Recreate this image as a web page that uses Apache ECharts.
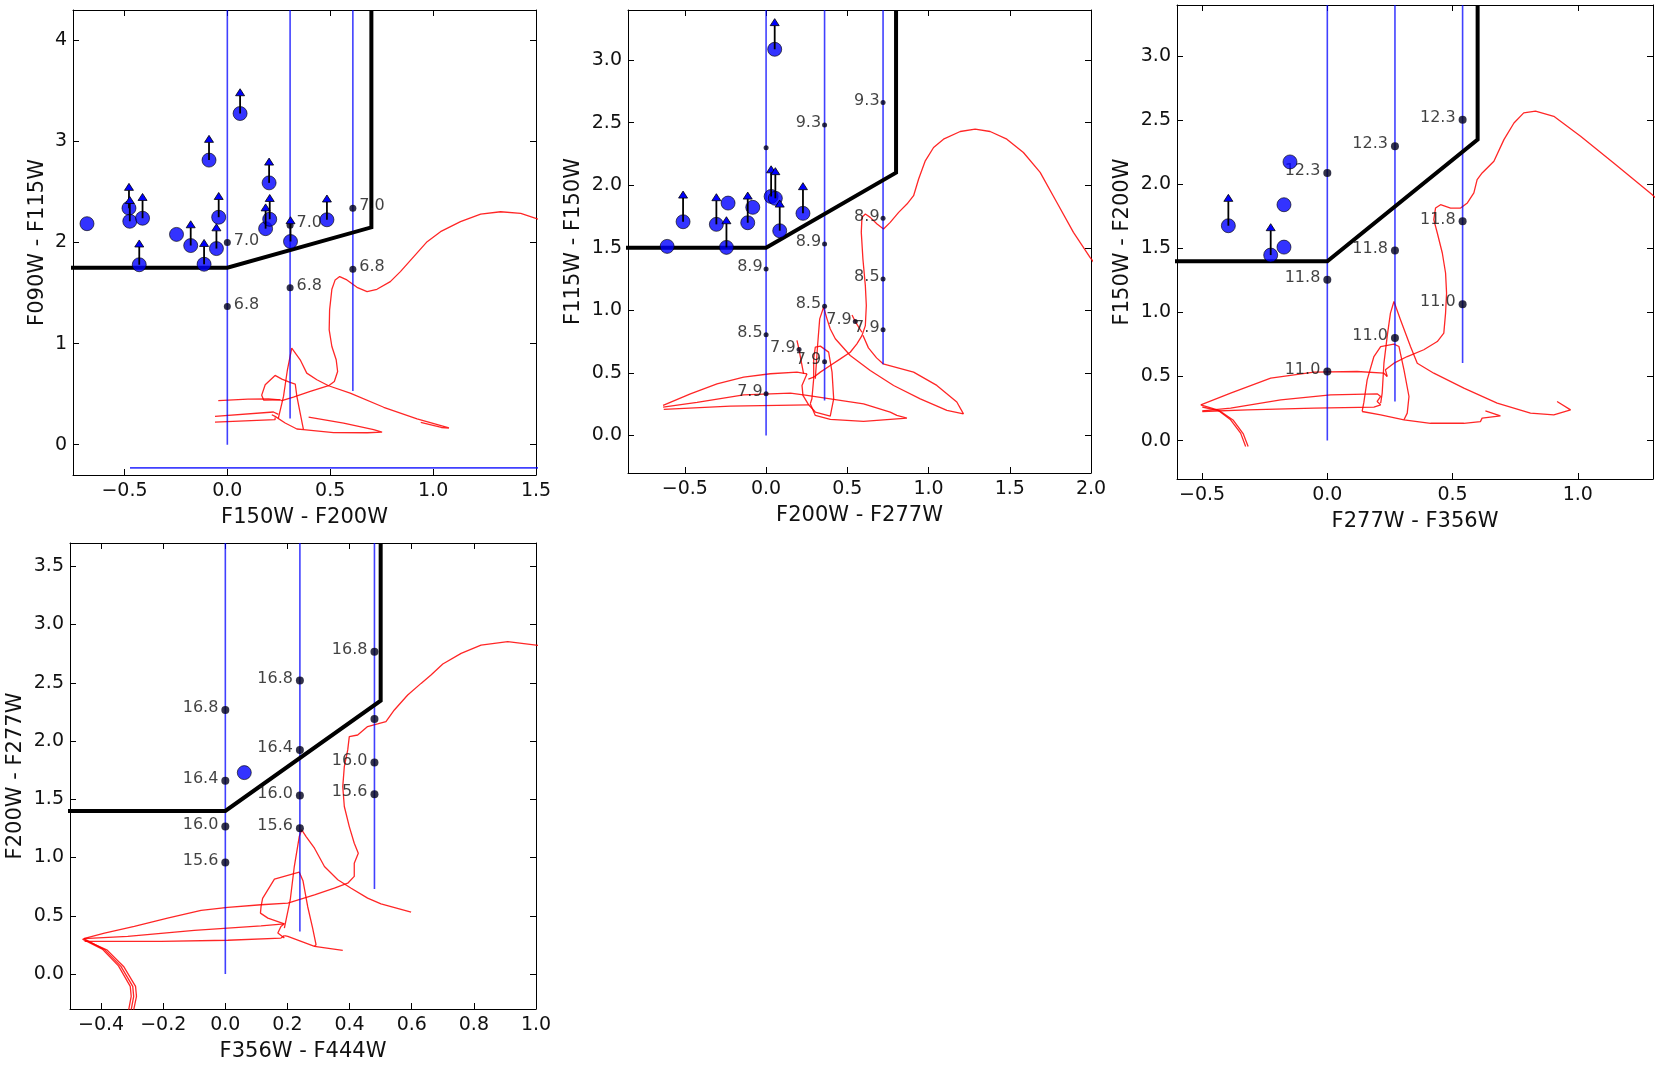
<!DOCTYPE html>
<html><head><meta charset="utf-8">
<script src="https://cdn.jsdelivr.net/npm/echarts@6/dist/echarts.min.js"></script>
<style>html,body{margin:0;padding:0;background:#fff}#c{width:1661px;height:1077px}</style>
</head><body><div id="c"></div>
<script>
// ---------------- Panel 1: F150W-F200W vs F090W-F115W ----------------
const p1XTicks = [-0.5, 0.0, 0.5, 1.0, 1.5];
const p1YTicks = [0, 1, 2, 3, 4];
const p1Src = [[-0.682,2.186],[-0.478,2.34],[-0.474,2.21],[-0.412,2.24],[-0.428,1.78],[-0.247,2.08],[-0.178,1.97],[-0.113,1.785],[-0.089,2.815],[-0.053,1.94],[-0.042,2.25],[0.062,3.276],[0.186,2.137],[0.203,2.59],[0.206,2.23],[0.307,2.01],[0.484,2.225]];
const p1Limit = [0,1,1,1,1,0,1,1,1,1,1,1,1,1,1,1,1];
const p1Cut = [[-0.8,1.75],[0,1.75],[0.7,2.15],[0.7,4.3]];
const p1Blue = [[0,0.0],[0.305,0.26],[0.61,0.53]];
const p1BlueH = [[-0.473,-0.23],[1.6,-0.23]];
const p1Age = [[0,2.0],[0,1.366],[0.305,2.17],[0.305,1.553],[0.61,2.34],[0.61,1.735]];
const p1AgeLbl = ['7.0','6.8','7.0','6.8','7.0','6.8'];
const p1Tracks = [
 [[1.55,2.2],[1.499,2.239],[1.426,2.288],[1.328,2.304],[1.231,2.281],[1.133,2.206],[1.036,2.107],[0.971,2.008],[0.906,1.86],[0.841,1.712],[0.792,1.613],[0.727,1.537],[0.679,1.514],[0.63,1.557],[0.581,1.63],[0.546,1.663],[0.524,1.63],[0.508,1.537],[0.497,1.333],[0.495,1.136],[0.508,0.971],[0.529,0.84],[0.536,0.724],[0.52,0.625],[0.492,0.583],[0.403,0.527],[0.321,0.471],[0.265,0.435],[0.257,0.444]],
 [[0.257,0.444],[0.177,0.44],[0.167,0.49],[0.184,0.593],[0.232,0.685],[0.265,0.648],[0.305,0.616],[0.33,0.6],[0.338,0.477],[0.354,0.313],[0.37,0.148],[0.338,0.155],[0.281,0.214],[0.232,0.28],[0.216,0.296]],
 [[-0.044,0.435],[0.1,0.45],[0.2,0.452],[0.257,0.444]],
 [[-0.06,0.28],[0.224,0.323],[0.248,0.30]],
 [[-0.06,0.224],[0.232,0.247],[0.232,0.27]],
 [[0.248,0.263],[0.273,0.477],[0.292,0.741],[0.313,0.955],[0.354,0.84],[0.386,0.708],[0.435,0.642],[0.492,0.583],[0.597,0.51],[0.76,0.37],[0.922,0.255],[1.077,0.165],[1.04,0.17],[0.94,0.22]],
 [[0.395,0.273],[0.565,0.214],[0.711,0.148],[0.752,0.125],[0.68,0.118],[0.516,0.12],[0.37,0.148]]
];

// ---------------- Panel 2: F200W-F277W vs F115W-F150W ----------------
const p2XTicks = [-0.5, 0.0, 0.5, 1.0, 1.5, 2.0];
const p2YTicks = [0.0, 0.5, 1.0, 1.5, 2.0, 2.5, 3.0];
const p2Src = [[-0.609,1.511],[-0.511,1.708],[-0.306,1.687],[-0.244,1.503],[-0.234,1.857],[-0.113,1.70],[-0.082,1.823],[0.031,1.91],[0.057,1.895],[0.084,1.636],[0.053,3.086],[0.227,1.775]];
const p2Limit = [0,1,1,1,0,1,0,1,1,1,1,1];
const p2Cut = [[-0.9,1.5],[0,1.5],[0.8,2.1],[0.8,3.4]];
const p2Blue = [[0,0.0],[0.36,0.28],[0.72,0.57]];
const p2Age = [[0,2.30],[0,1.33],[0,0.804],[0,0.333],[0.36,2.48],[0.36,1.53],[0.36,1.033],[0.36,0.59],[0.72,2.66],[0.72,1.735],[0.72,1.25],[0.72,0.844],[0.203,0.686],[0.549,0.91]];
const p2AgeLbl = ['','8.9','8.5','7.9','9.3','8.9','8.5','7.9','9.3','8.9','8.5','7.9','7.9','7.9'];
const p2Tracks = [
 [[2.03,1.36],[1.994,1.424],[1.892,1.623],[1.79,1.862],[1.687,2.102],[1.584,2.261],[1.482,2.368],[1.379,2.429],[1.287,2.448],[1.195,2.429],[1.092,2.368],[1.031,2.301],[0.98,2.195],[0.939,2.049],[0.908,1.916],[0.867,1.849],[0.816,1.783],[0.764,1.703],[0.723,1.65],[0.683,1.69],[0.641,1.743],[0.611,1.77],[0.59,1.743],[0.586,1.623],[0.596,1.41],[0.611,1.197],[0.617,1.038],[0.611,0.878],[0.59,0.798],[0.559,0.732],[0.518,0.665],[0.457,0.612],[0.395,0.559],[0.334,0.506],[0.293,0.466],[0.26,0.45]],
 [[0.596,0.80],[0.63,0.70],[0.68,0.62],[0.72,0.573],[0.908,0.506],[1.051,0.40],[1.174,0.267],[1.215,0.173]],
 [[0.303,0.453],[0.317,0.719],[0.33,0.932],[0.354,1.025],[0.375,0.932],[0.395,0.851],[0.426,0.773],[0.518,0.639],[0.641,0.519],[0.785,0.399],[0.949,0.293],[1.113,0.20],[1.215,0.173]],
 [[0.252,0.493],[0.19,0.506],[0.026,0.493],[-0.138,0.466],[-0.302,0.413],[-0.466,0.333],[-0.634,0.24]],
 [[-0.634,0.227],[-0.425,0.264],[-0.138,0.325],[0.15,0.339],[0.252,0.32],[0.395,0.293],[0.6,0.253],[0.764,0.187],[0.805,0.16],[0.867,0.139],[0.6,0.112],[0.395,0.128],[0.303,0.16],[0.272,0.253]],
 [[-0.63,0.208],[-0.22,0.235],[0.262,0.245]],
 [[0.252,0.493],[0.221,0.4],[0.227,0.32],[0.262,0.245],[0.303,0.187],[0.395,0.155],[0.416,0.293],[0.406,0.506],[0.385,0.666],[0.334,0.714],[0.303,0.706],[0.293,0.613],[0.293,0.453],[0.282,0.293],[0.272,0.253]],
 [[0.19,0.76],[0.203,0.686],[0.215,0.6],[0.231,0.493]],
 [[0.529,0.963],[0.549,0.91],[0.59,0.825]]
];

// ---------------- Panel 3: F277W-F356W vs F150W-F200W ----------------
const p3XTicks = [-0.5, 0.0, 0.5, 1.0];
const p3YTicks = [0.0, 0.5, 1.0, 1.5, 2.0, 2.5, 3.0];
const p3Src = [[-0.395,1.677],[-0.226,1.448],[-0.173,1.51],[-0.173,1.841],[-0.149,2.175]];
const p3Limit = [1,1,0,0,0];
const p3Cut = [[-0.7,1.4],[0,1.4],[0.6,2.35],[0.6,3.4]];
const p3Blue = [[0,0.0],[0.27,0.305],[0.54,0.605]];
const p3Age = [[0,2.089],[0,1.255],[0,0.539],[0.27,2.297],[0.27,1.484],[0.27,0.80],[0.54,2.505],[0.54,1.711],[0.54,1.065]];
const p3AgeLbl = ['12.3','11.8','11.0','12.3','11.8','11.0','12.3','11.8','11.0'];
const p3Tracks = [
 [[1.33,1.86],[1.296,1.92],[1.143,2.167],[1.011,2.375],[0.904,2.531],[0.831,2.571],[0.784,2.558],[0.745,2.479],[0.705,2.349],[0.665,2.18],[0.618,2.089],[0.598,2.037],[0.585,1.933],[0.559,1.855],[0.532,1.815],[0.492,1.815],[0.452,1.841],[0.432,1.815],[0.425,1.724],[0.439,1.62],[0.459,1.464],[0.472,1.308],[0.476,1.151],[0.472,0.995],[0.465,0.839],[0.439,0.773],[0.385,0.709],[0.319,0.656],[0.266,0.604],[0.232,0.552],[0.239,0.50]],
 [[0.213,0.292],[0.219,0.37],[0.226,0.604],[0.239,0.813],[0.252,0.995],[0.266,1.086],[0.272,1.086],[0.292,0.943],[0.332,0.734],[0.359,0.604],[0.425,0.526],[0.545,0.409],[0.678,0.292],[0.811,0.214],[0.904,0.201],[0.971,0.24],[0.917,0.305]],
 [[0.139,0.227],[0.146,0.30],[0.159,0.474],[0.186,0.656],[0.213,0.734],[0.266,0.753],[0.286,0.734],[0.306,0.552],[0.326,0.344],[0.319,0.214],[0.306,0.162]],
 [[0.139,0.227],[0.213,0.201],[0.306,0.162],[0.412,0.135],[0.545,0.135],[0.611,0.148],[0.618,0.175],[0.691,0.193],[0.631,0.232]],
 [[-0.505,0.279],[-0.386,0.37],[-0.226,0.487],[-0.053,0.534],[0.119,0.539],[0.226,0.526],[0.239,0.50]],
 [[-0.499,0.232],[-0.386,0.253],[-0.186,0.318],[0.013,0.357],[0.199,0.365],[0.213,0.344],[0.199,0.305],[0.213,0.279]],
 [[-0.499,0.227],[-0.319,0.24],[-0.053,0.253],[0.186,0.261],[0.213,0.279]],
 [[-0.505,0.279],[-0.439,0.24],[-0.386,0.162],[-0.346,0.058],[-0.326,-0.047]],
 [[-0.499,0.262],[-0.43,0.232],[-0.375,0.158],[-0.336,0.055],[-0.316,-0.047]]
];

// ---------------- Panel 4: F356W-F444W vs F200W-F277W ----------------
const p4XTicks = [-0.4, -0.2, 0.0, 0.2, 0.4, 0.6, 0.8, 1.0];
const p4YTicks = [0.0, 0.5, 1.0, 1.5, 2.0, 2.5, 3.0, 3.5];
const p4Src = [[0.061,1.729]];
const p4Limit = [0];
const p4Cut = [[-0.6,1.4],[0,1.4],[0.5,2.347],[0.5,3.7]];
const p4Blue = [[0,0.0],[0.24,0.365],[0.48,0.73]];
const p4Age = [[0,2.267],[0,1.66],[0,1.266],[0,0.957],[0.24,2.52],[0.24,1.924],[0.24,1.532],[0.24,1.252],[0.48,2.767],[0.48,2.19],[0.48,1.815],[0.48,1.544]];
const p4AgeLbl = ['16.8','16.4','16.0','15.6','16.8','16.4','16.0','15.6','16.8','','16.0','15.6'];
const p4Tracks = [
 [[1.03,2.81],[1.0,2.824],[0.909,2.853],[0.823,2.824],[0.759,2.753],[0.7,2.661],[0.662,2.567],[0.63,2.495],[0.587,2.395],[0.544,2.267],[0.517,2.167],[0.49,2.147],[0.458,2.124],[0.426,2.052],[0.399,2.038],[0.394,1.924],[0.383,1.781],[0.378,1.609],[0.383,1.438],[0.399,1.266],[0.415,1.123],[0.428,1.037],[0.415,0.952],[0.415,0.838],[0.394,0.78],[0.351,0.737],[0.287,0.68],[0.201,0.609],[0.115,0.595],[0.008,0.572],[-0.078,0.546],[-0.186,0.48],[-0.293,0.409],[-0.389,0.352],[-0.456,0.304]],
 [[-0.456,0.304],[-0.314,0.323],[-0.1,0.375],[0.115,0.414],[0.19,0.431],[0.179,0.409],[0.169,0.352],[0.19,0.309]],
 [[-0.453,0.281],[-0.207,0.281],[0.008,0.29],[0.179,0.309],[0.19,0.33]],
 [[0.19,0.43],[0.137,0.48],[0.113,0.523],[0.115,0.58],[0.12,0.65],[0.158,0.815],[0.238,0.874],[0.25,0.80],[0.265,0.58],[0.281,0.395],[0.292,0.252],[0.287,0.238]],
 [[0.19,0.395],[0.209,0.638],[0.222,0.923],[0.238,1.18],[0.246,1.238],[0.26,1.18],[0.287,1.08],[0.319,0.923],[0.362,0.809],[0.405,0.737],[0.458,0.652],[0.501,0.603],[0.598,0.531]],
 [[0.19,0.33],[0.201,0.323],[0.244,0.281],[0.287,0.238],[0.378,0.204]],
 [[-0.456,0.304],[-0.389,0.21],[-0.336,0.066],[-0.298,-0.106],[-0.295,-0.192],[-0.304,-0.32]],
 [[-0.45,0.29],[-0.38,0.205],[-0.326,0.06],[-0.289,-0.106],[-0.286,-0.192],[-0.296,-0.32]],
 [[-0.46,0.3],[-0.396,0.214],[-0.344,0.07],[-0.306,-0.106],[-0.303,-0.192],[-0.312,-0.32]]
];

// ---------------- build chart ----------------
const FONT = 'DejaVu Sans';
const ARROW_LEN = 0.245;
const panels = [
 {grid:{left:73,top:10,width:463,height:465}, x:[-0.75,1.5], y:[-0.3,4.3], xt:p1XTicks, yt:p1YTicks, yd:0, xn:'F150W - F200W', yn:'F090W - F115W',
  src:p1Src, lim:p1Limit, cut:p1Cut, blue:p1Blue, extra:[p1BlueH], age:p1Age, lbl:p1AgeLbl, tracks:p1Tracks, dot:7, pos:'right', dist:3, circ:14},
 {grid:{left:628,top:10,width:463,height:463}, x:[-0.85,2.0], y:[-0.3,3.4], xt:p2XTicks, yt:p2YTicks, yd:1, xn:'F200W - F277W', yn:'F115W - F150W',
  src:p2Src, lim:p2Limit, cut:p2Cut, blue:p2Blue, extra:[], age:p2Age, lbl:p2AgeLbl, tracks:p2Tracks, dot:5, pos:'left', dist:1, circ:14},
 {grid:{left:1177,top:5,width:476,height:474}, x:[-0.6,1.3], y:[-0.3,3.4], xt:p3XTicks, yt:p3YTicks, yd:1, xn:'F277W - F356W', yn:'F150W - F200W',
  src:p3Src, lim:p3Limit, cut:p3Cut, blue:p3Blue, extra:[], age:p3Age, lbl:p3AgeLbl, tracks:p3Tracks, dot:8, pos:'left', dist:3, circ:14},
 {grid:{left:70,top:543,width:466,height:466}, x:[-0.5,1.0], y:[-0.3,3.7], xt:p4XTicks, yt:p4YTicks, yd:1, xn:'F356W - F444W', yn:'F200W - F277W',
  src:p4Src, lim:p4Limit, cut:p4Cut, blue:p4Blue, extra:[], age:p4Age, lbl:p4AgeLbl, tracks:p4Tracks, dot:8, pos:'left', dist:3, circ:14}
];

function fmt(v, d){ return Number(v).toFixed(d).replace('-', '\u2212'); }

const grids = [], xAxes = [], yAxes = [], series = [];
panels.forEach((p, i) => {
  grids.push(Object.assign({containLabel:false, show:false}, p.grid));
  const line = {show:true, onZero:false, lineStyle:{color:'#000', width:1}};
  const tick = (vals)=>({show:true, inside:true, length:6, customValues:vals, lineStyle:{color:'#000', width:1}});
  const nameStyle = {fontFamily:FONT, fontSize:21, color:'#111'};
  xAxes.push({type:'value', gridIndex:i, position:'bottom', min:p.x[0], max:p.x[1], axisLine:line, splitLine:{show:false},
    axisTick:tick(p.xt), axisLabel:{customValues:p.xt, margin:7, fontFamily:FONT, fontSize:19, color:'#111', formatter:(v)=>fmt(v,1)},
    name:p.xn, nameLocation:'middle', nameGap:32, nameTextStyle:nameStyle});
  xAxes.push({type:'value', gridIndex:i, position:'top', min:p.x[0], max:p.x[1], axisLine:line, splitLine:{show:false},
    axisTick:tick(p.xt), axisLabel:{show:false}});
  yAxes.push({type:'value', gridIndex:i, position:'left', min:p.y[0], max:p.y[1], axisLine:line, splitLine:{show:false},
    axisTick:tick(p.yt), axisLabel:{customValues:p.yt, margin:6, fontFamily:FONT, fontSize:19, color:'#111', formatter:(v)=>fmt(v,p.yd)},
    name:p.yn, nameLocation:'middle', nameGap: (p.yd===0? 25 : 44), nameRotate:90, nameTextStyle:nameStyle});
  yAxes.push({type:'value', gridIndex:i, position:'right', min:p.y[0], max:p.y[1], axisLine:line, splitLine:{show:false},
    axisTick:tick(p.yt), axisLabel:{show:false}});
  const xi = 2*i, yi = 2*i;
  const base = {xAxisIndex:xi, yAxisIndex:yi, animation:false, silent:true};
  p.tracks.forEach(t => series.push(Object.assign({type:'line', data:t, symbol:'none', clip:true, z:2,
    lineStyle:{color:'rgba(255,0,0,0.85)', width:1.3}}, base)));
  p.blue.forEach(b => series.push(Object.assign({type:'line', data:[[b[0],b[1]],[b[0],p.y[1]]], symbol:'none', clip:true, z:3,
    lineStyle:{color:'rgba(0,0,255,0.75)', width:1.6}}, base)));
  p.extra.forEach(e => series.push(Object.assign({type:'line', data:e, symbol:'none', clip:true, z:3,
    lineStyle:{color:'rgba(0,0,255,0.75)', width:1.6}}, base)));
  series.push(Object.assign({type:'line', data:p.cut, symbol:'none', clip:true, z:4,
    lineStyle:{color:'#000', width:4, join:'miter'}}, base));
  series.push(Object.assign({type:'scatter', data:p.age.map((a,k)=>({value:a, name:p.lbl[k]})), symbol:'circle', symbolSize:p.dot, z:5,
    itemStyle:{color:'#00001a'},
    label:{show:true, position:p.pos, distance:p.dist, offset:[0,-2], formatter:(q)=>q.name, fontFamily:FONT, fontSize:16, color:'#111'}}, base));
  series.push(Object.assign({type:'scatter', data:p.src, symbol:'circle', symbolSize:p.circ, z:6,
    itemStyle:{color:'#0000ff', borderColor:'#000', borderWidth:0.8}}, base));
  const lims = p.src.filter((s,k)=>p.lim[k]===1);
  series.push(Object.assign({type:'custom', data:lims, z:7, clip:false,
    renderItem:function(params, api){
      const x = api.value(0), y = api.value(1);
      const p0 = api.coord([x,y]);
      const p1 = api.coord([x, y + ARROW_LEN]);
      const tip = p1[1], bs = tip + 7;
      return {type:'group', children:[
        {type:'line', shape:{x1:p0[0], y1:p0[1], x2:p0[0], y2:bs}, style:{stroke:'#000', lineWidth:1.8}},
        {type:'polygon', shape:{points:[[p0[0],tip],[p0[0]-4.5,bs],[p0[0]+4.5,bs]]}, style:{fill:'#0000ff', stroke:'#000', lineWidth:0.8}}
      ]};
    }}, base));
});

const chart = echarts.init(document.getElementById('c'));
chart.setOption({backgroundColor:'#fff', animation:false, grid:grids, xAxis:xAxes, yAxis:yAxes, series:series});
</script></body></html>
